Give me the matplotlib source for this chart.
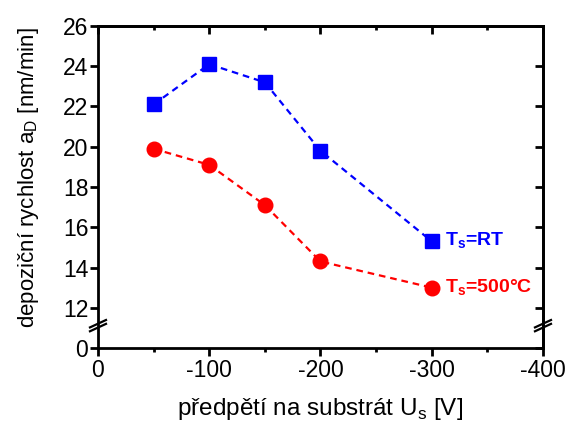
import matplotlib
matplotlib.use("Agg")
import matplotlib.pyplot as plt
from matplotlib.ticker import MultipleLocator

plt.rcParams['font.family'] = ['Liberation Sans', 'DejaVu Sans']
plt.rcParams['mathtext.fontset'] = 'custom'
plt.rcParams['mathtext.rm'] = 'Liberation Sans'

bias = [-50, -100, -150, -200, -300]
rate_rt = [22.1, 24.1, 23.2, 19.8, 15.3]
rate_500 = [19.9, 19.1, 17.1, 14.3, 13.0]
yticks = [10, 12, 14, 16, 18, 20, 22, 24, 26]
yticklabels = ['0', '12', '14', '16', '18', '20', '22', '24', '26']
xticks = [0, -100, -200, -300, -400]

fig = plt.figure(figsize=(5.7, 4.36), dpi=100)
ax = fig.add_axes([0.1719, 0.2018, 0.9526 - 0.1719, 0.9404 - 0.2018])

ax.plot(bias, rate_rt, ls=(0, (3, 2.2)), color='#0000FF', lw=1.6,
        marker='s', ms=9.5, mec='#0000FF', mfc='#0000FF')
ax.plot(bias, rate_500, ls=(0, (3, 2.2)), color='#FF0000', lw=1.6,
        marker='o', ms=10.5, mec='#FF0000', mfc='#FF0000')

ax.set_xlim(0, -400)
ax.set_ylim(10, 26)
ax.set_xticks(xticks)
ax.set_xticklabels([str(v) for v in xticks])
ax.xaxis.set_minor_locator(MultipleLocator(50))
ax.set_yticks(yticks)
ax.set_yticklabels(yticklabels)

for s in ax.spines.values():
    s.set_linewidth(2)

ax.tick_params(axis='x', which='major', direction='out', length=6, width=2,
               labelsize=16.5, pad=2, top=False)
ax.tick_params(axis='x', which='minor', direction='out', length=3, width=2, top=False)
ax.tick_params(axis='y', which='major', direction='out', length=6, width=2,
               labelsize=16.5, pad=1, right=False)

# inward ticks on top and right
secx = ax.secondary_xaxis('top')
secx.set_xticks(xticks)
secx.xaxis.set_minor_locator(MultipleLocator(50))
secx.tick_params(axis='x', which='major', direction='in', length=6, width=2, labeltop=False)
secx.tick_params(axis='x', which='minor', direction='in', length=3, width=2)
secx.spines['top'].set_linewidth(2)
secy = ax.secondary_yaxis('right')
secy.set_yticks(yticks)
secy.tick_params(axis='y', which='major', direction='in', length=6, width=2, labelright=False)
secy.spines['right'].set_linewidth(2)

ax.set_xlabel('předpětí na substrát U$_\\mathregular{s}$ [V]', fontsize=17.5, labelpad=10)
ax.set_ylabel('depoziční rychlost a$_\\mathregular{D}$ [nm/min]', fontsize=16)
ax.yaxis.set_label_coords(-0.128, 0.53)

# break marks on y-axis
for xa in (0, 1):
    for dy in (0, 0.012):
        ax.plot([xa - 0.018, xa + 0.018], [0.052 + dy, 0.075 + dy],
                transform=ax.transAxes, color='black', lw=1.6, clip_on=False, zorder=5)

ax.text(-312, 15.3, 'T$_\\mathregular{s}$=RT', color='#0000FF', fontsize=14,
        fontweight='bold', va='center', ha='left')
ax.text(-312, 13.0, 'T$_\\mathregular{s}$=500°C', color='#FF0000', fontsize=14,
        fontweight='bold', va='center', ha='left')

fig.savefig('out.png', dpi=100)
